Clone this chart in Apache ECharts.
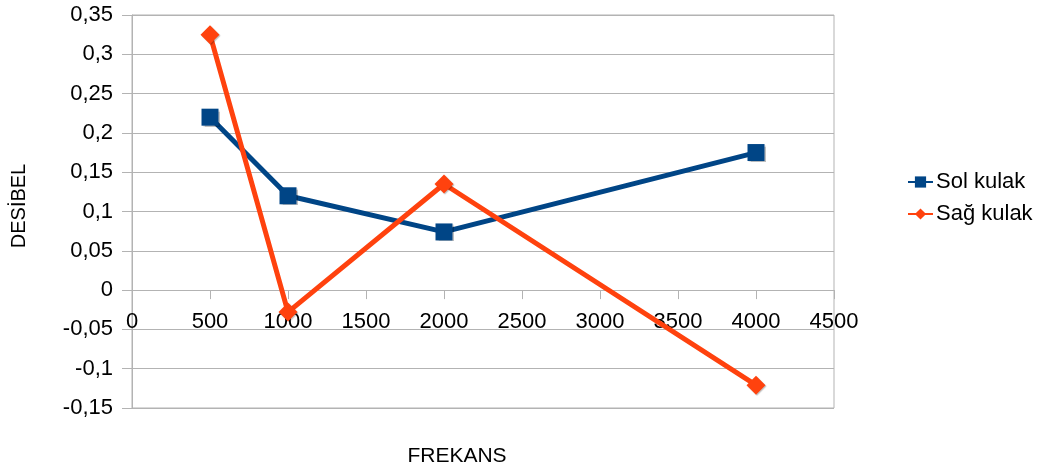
<!DOCTYPE html>
<html>
<head>
<meta charset="utf-8">
<script src="https://cdn.jsdelivr.net/npm/echarts@6/dist/echarts.min.js"></script>
<style>
  html, body { margin: 0; padding: 0; background: #fff; }
  #chart { width: 1049px; height: 471px; }
</style>
</head>
<body>
<div id="chart"></div>
<script>
// Frequencies (Hz) and measured differences (dB) for each ear
const frequencies = [500, 1000, 2000, 4000];
const solKulak = [0.22, 0.12, 0.074, 0.175];
const sagKulak = [0.325, -0.028, 0.135, -0.121];
const seriesNames = ['Sol kulak', 'Sağ kulak'];
const xTitle = 'FREKANS';
const yTitle = 'DESİBEL';

const FONT = '"Liberation Sans", Arial, sans-serif';
const GRID_COLOR = '#b3b3b3';

const Y_MIN = -0.15, Y_MAX = 0.35;
const GRID = { left: 132, right: 215, top: 15, bottom: 63 };
const plotHeight = 471 - GRID.top - GRID.bottom;
// the frequency axis is drawn across the zero line
const zeroOffset = plotHeight * (0 - Y_MIN) / (Y_MAX - Y_MIN);

const fmtComma = v => {
  const r = Math.round(v * 100) / 100;
  return String(r).replace('.', ',');
};

const chart = echarts.init(document.getElementById('chart'));
chart.setOption({
  animation: false,
  textStyle: { fontFamily: FONT },
  grid: {
    left: GRID.left, right: GRID.right, top: GRID.top, bottom: GRID.bottom,
    show: true, borderColor: GRID_COLOR, borderWidth: 1,
    containLabel: false,
    outerBoundsMode: 'none'
  },
  legend: {
    orient: 'vertical',
    left: 902, top: 166,
    itemWidth: 25, itemHeight: 14, itemGap: 10,
    textStyle: { fontFamily: FONT, fontSize: 22, color: '#000', padding: [0, 0, 0, -2] },
    data: seriesNames
  },
  graphic: [
    {
      type: 'text',
      x: 457, y: 456,
      style: { text: xTitle, fontFamily: FONT, fontSize: 21, fill: '#000', align: 'center', verticalAlign: 'middle' }
    },
    {
      type: 'text',
      x: 19, y: 206,
      rotation: Math.PI / 2,
      style: { text: yTitle, fontFamily: FONT, fontSize: 20, fill: '#000', align: 'center', verticalAlign: 'middle' }
    }
  ],
  xAxis: {
    type: 'value',
    min: 0, max: 4500, interval: 500,
    offset: -zeroOffset,
    axisLine: { onZero: false, lineStyle: { color: GRID_COLOR, width: 1 } },
    axisTick: { show: true, inside: false, length: 9, lineStyle: { color: GRID_COLOR } },
    axisLabel: { fontFamily: FONT, fontSize: 22, color: '#000', margin: 21, formatter: v => String(v) },
    splitLine: { show: false }
  },
  yAxis: {
    type: 'value',
    min: Y_MIN, max: Y_MAX, interval: 0.05,
    axisLine: { show: true, lineStyle: { color: GRID_COLOR, width: 1 } },
    axisTick: { show: true, length: 10, lineStyle: { color: GRID_COLOR } },
    axisLabel: { fontFamily: FONT, fontSize: 22, color: '#000', margin: 19, formatter: fmtComma },
    splitLine: { show: true, lineStyle: { color: GRID_COLOR, width: 1 } }
  },
  series: [
    {
      name: seriesNames[0],
      type: 'line',
      data: frequencies.map((f, i) => [f, solKulak[i]]),
      symbol: 'rect',
      symbolSize: 17,
      lineStyle: { color: '#004586', width: 5 },
      itemStyle: { color: '#004586', shadowColor: 'rgba(0,0,0,0.25)', shadowOffsetX: 1, shadowOffsetY: 1, shadowBlur: 1 },
      z: 2
    },
    {
      name: seriesNames[1],
      type: 'line',
      data: frequencies.map((f, i) => [f, sagKulak[i]]),
      symbol: 'diamond',
      symbolSize: 19,
      lineStyle: { color: '#ff420e', width: 5 },
      itemStyle: { color: '#ff420e', shadowColor: 'rgba(0,0,0,0.25)', shadowOffsetX: 1, shadowOffsetY: 1, shadowBlur: 1 },
      z: 3
    }
  ]
});
</script>
</body>
</html>
